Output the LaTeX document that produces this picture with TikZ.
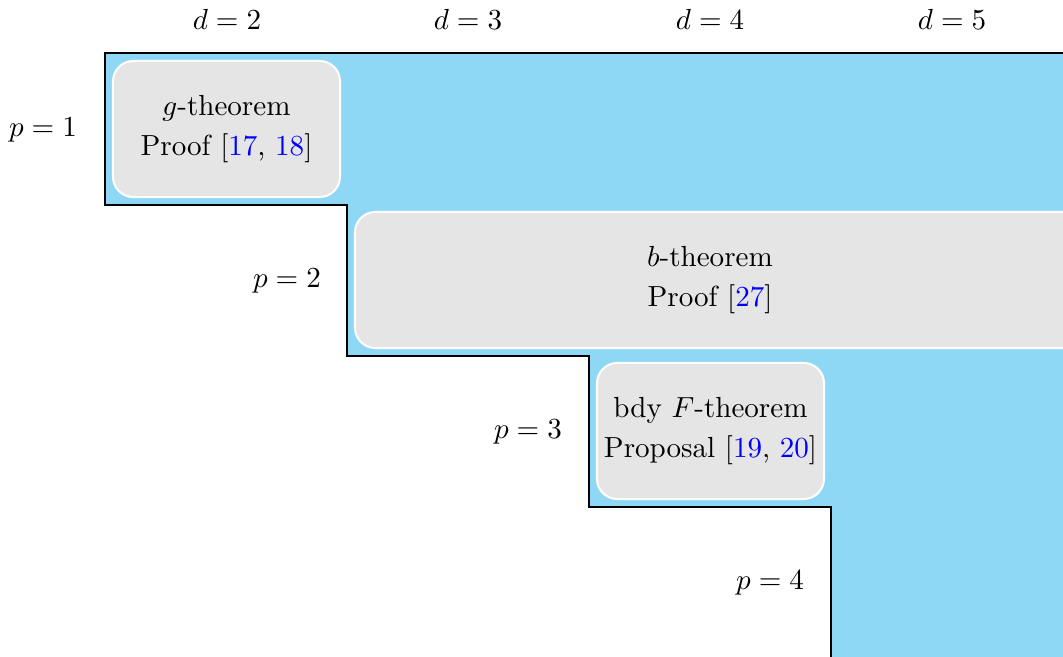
\documentclass[tikz,border=0pt]{standalone}
\usepackage{xcolor}
\definecolor{skyb}{RGB}{142,216,246}
\definecolor{boxg}{RGB}{229,229,229}
\newcommand\refc[1]{\textcolor{blue}{#1}}
\begin{document}
\begin{tikzpicture}[x=0.344pt,y=-0.344pt,
  cellbg/.style={draw=white,line width=0.7pt,fill=boxg,rounded corners=7pt},
  cell/.style={cellbg,align=center,inner sep=0pt,minimum height=46.8pt},
  lab/.style={inner sep=0pt}]
\useasboundingbox (0,0) rectangle (1063,657);
\begin{scope}
\clip (0,0) rectangle (1063,657);
\fill[skyb] (105,53) -- (1090,53) -- (1090,680) -- (831,680) -- (831,507) -- (589,507) -- (589,356) -- (347,356) -- (347,205) -- (105,205) -- cycle;
\draw[line width=1pt] (1090,53) -- (105,53) -- (105,205) -- (347,205) -- (347,356) -- (589,356) -- (589,507) -- (831,507) -- (831,680);
\node[cell,minimum width=78.1pt] (g) at (226.5,129) {$g$-theorem\\[1.8pt]Proof [\refc{17}, \refc{18}]};
\path[cellbg] (355,212) rectangle (1090,348);
\node[align=center,inner sep=0pt] (b) at (710,280) {$b$-theorem\\[1.8pt]Proof [\refc{27}]};
\node[cell,minimum width=78.1pt] (f) at (710.5,431) {bdy $F$-theorem\\[1.8pt]Proposal [\refc{19}, \refc{20}]};
\node[lab] (d2) at (227,19) {$d=2$};
\node[lab] (d3) at (468,19) {$d=3$};
\node[lab] (d4) at (710,19) {$d=4$};
\node[lab] (d5) at (952,19) {$d=5$};
\node[lab] (p1) at (43,130) {$p=1$};
\node[lab] (p2) at (287,281) {$p=2$};
\node[lab] (p3) at (528,432) {$p=3$};
\node[lab] (p4) at (770,583) {$p=4$};
\end{scope}
\end{tikzpicture}
\end{document}
